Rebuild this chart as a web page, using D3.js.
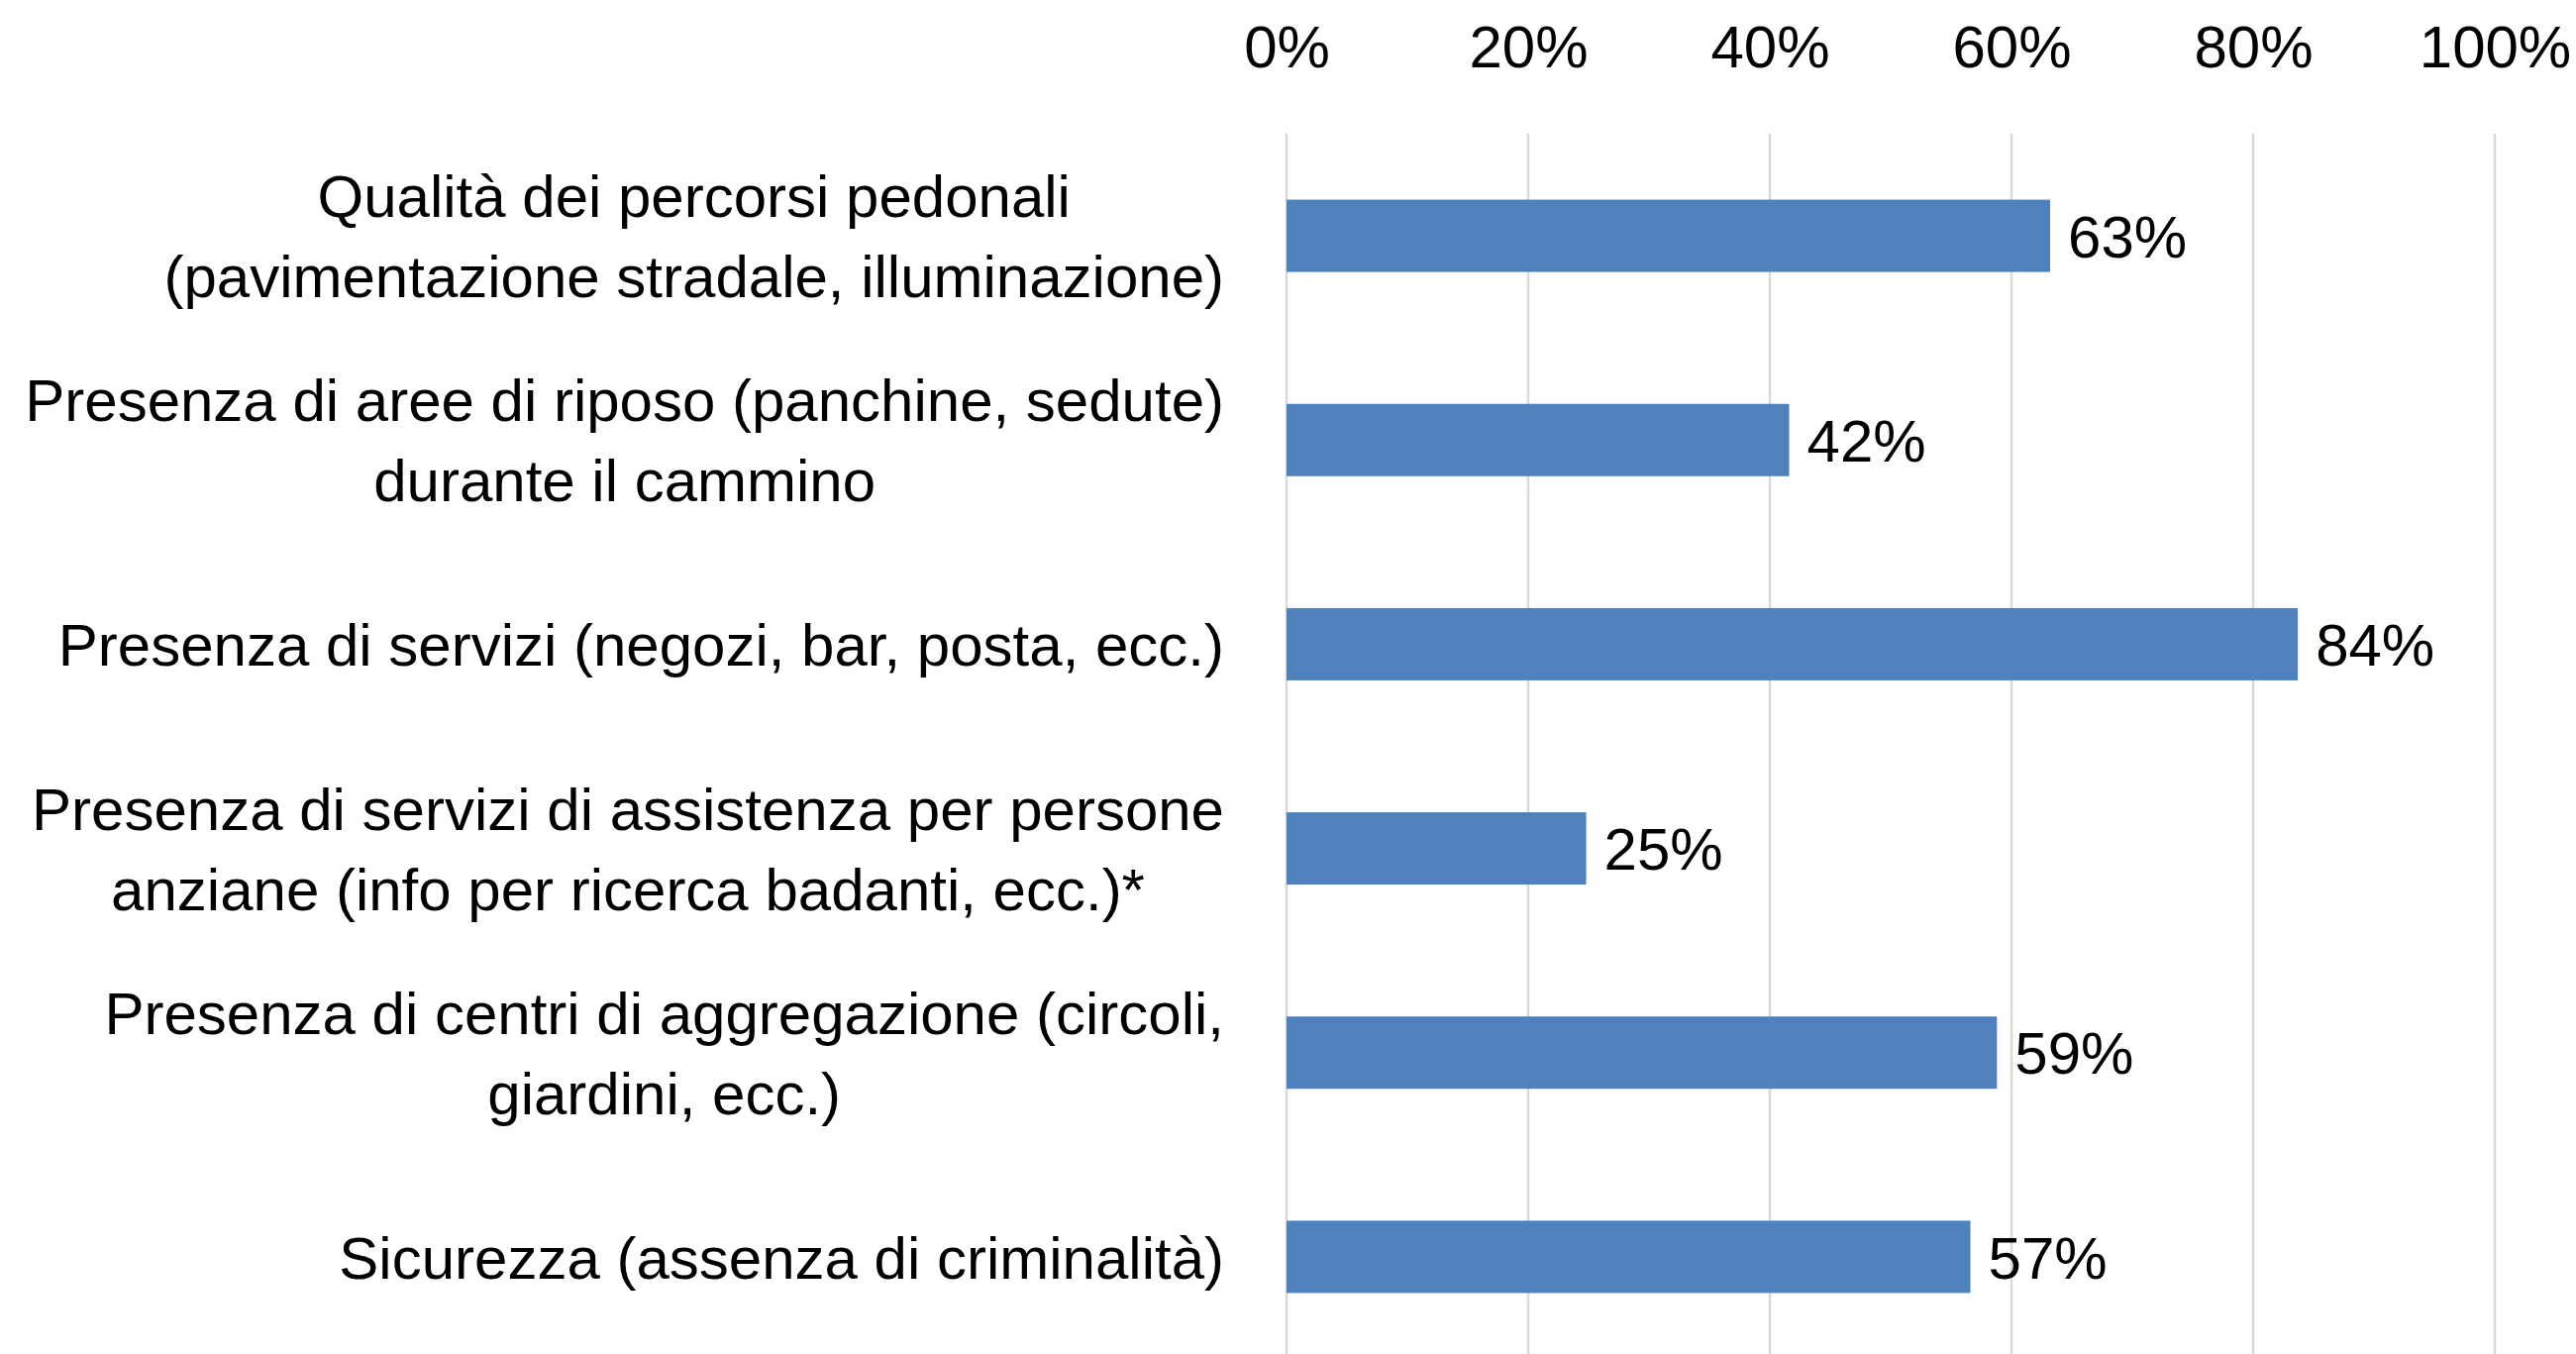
<!DOCTYPE html>
<html>
<head>
<meta charset="utf-8">
<script src="https://cdn.jsdelivr.net/npm/d3@7"></script>
<style>
html,body{margin:0;padding:0;background:#fff;}
svg text{font-family:'Liberation Sans',Arial,sans-serif;fill:#000;}
</style>
</head>
<body>
<script>
var categories=[
  'Qualità dei percorsi pedonali\n(pavimentazione stradale, illuminazione)',
  'Presenza di aree di riposo (panchine, sedute)\ndurante il cammino',
  'Presenza di servizi (negozi, bar, posta, ecc.)',
  'Presenza di servizi di assistenza per persone\nanziane (info per ricerca badanti, ecc.)*',
  'Presenza di centri di aggregazione (circoli,\ngiardini, ecc.)',
  'Sicurezza (assenza di criminalità)'
];
var values=[0.632,0.416,0.837,0.248,0.588,0.566];
var tickValues=[0,0.2,0.4,0.6,0.8,1];

var width=2601,height=1367;
var plotLeft=1299,plotRight=2519,plotTop=135,plotBottom=1372;
var fontSize=60;
var lineGap=81;

var svg=d3.select('body').append('svg')
  .attr('width',width)
  .attr('height',height);

var xScale=d3.scaleLinear()
  .domain([0,1])
  .range([plotLeft,plotRight]);

var yScale=d3.scaleBand()
  .domain(categories)
  .range([plotTop,plotBottom])
  .paddingInner(0.646)
  .paddingOuter(0.323);

// gridlines
svg.append('g')
  .selectAll('line')
  .data(tickValues)
  .enter()
  .append('line')
  .attr('x1',d=>xScale(d))
  .attr('x2',d=>xScale(d))
  .attr('y1',plotTop)
  .attr('y2',plotBottom)
  .style('stroke','#d9d9d9')
  .style('stroke-width',2.5);

// top axis labels
var xAxis=d3.axisTop(xScale)
  .tickValues(tickValues)
  .tickFormat(d3.format('.0%'))
  .tickSize(0)
  .tickPadding(67);

var xg=svg.append('g')
  .attr('transform','translate(0,'+plotTop+')')
  .call(xAxis);
xg.select('.domain').remove();
xg.selectAll('text')
  .style('font-size',fontSize+'px')
  .style('font-family',"'Liberation Sans',Arial,sans-serif")
  .attr('fill','#000');

// bars
svg.append('g')
  .selectAll('rect')
  .data(values)
  .enter()
  .append('rect')
  .attr('x',xScale(0))
  .attr('y',(d,i)=>yScale(categories[i]))
  .attr('width',d=>xScale(d)-xScale(0))
  .attr('height',yScale.bandwidth())
  .style('fill','#4f81bd');

// value labels
svg.append('g')
  .selectAll('text')
  .data(values)
  .enter()
  .append('text')
  .attr('x',d=>xScale(d)+18)
  .attr('y',(d,i)=>yScale(categories[i])+yScale.bandwidth()/2)
  .attr('dy','0.36em')
  .style('font-size',fontSize+'px')
  .text(d=>d3.format('.0%')(d));

// category labels, centred block, right aligned to the plot
var labelRight=1236;
var labels=svg.append('g');
categories.forEach(function(c){
  var lines=c.split('\n');
  var cy=yScale(c)+yScale.bandwidth()/2;
  var t=labels.append('text')
    .style('font-size',fontSize+'px')
    .attr('text-anchor','middle');
  var spans=lines.map(function(l,j){
    return t.append('tspan')
      .attr('y',cy+(j-(lines.length-1)/2)*lineGap)
      .attr('dy','0.36em')
      .text(l);
  });
  var maxW=d3.max(spans,s=>s.node().getComputedTextLength());
  spans.forEach(s=>s.attr('x',labelRight-maxW/2));
});
</script>
</body>
</html>
